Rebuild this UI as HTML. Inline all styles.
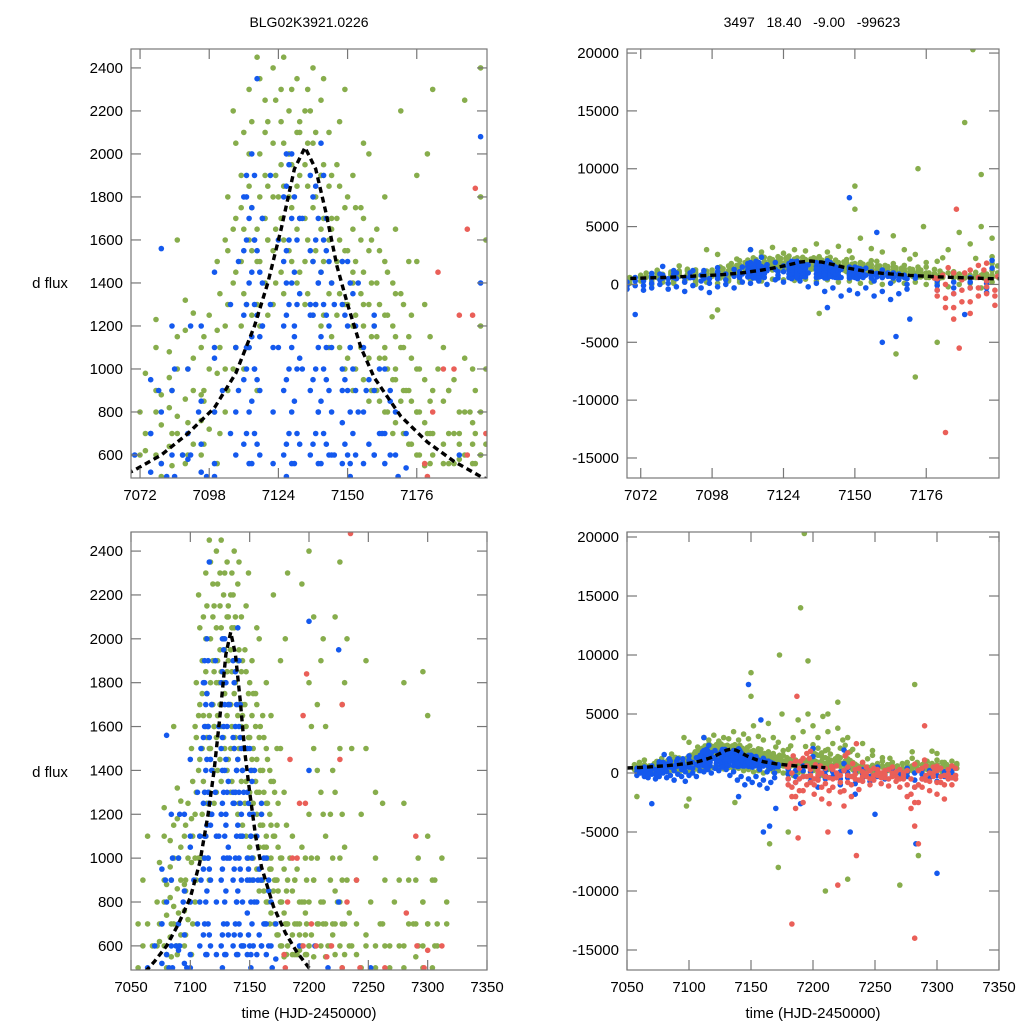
<!DOCTYPE html>
<html><head><meta charset="utf-8"><style>
html,body{margin:0;padding:0;background:#fff;width:1024px;height:1024px;overflow:hidden}
svg{display:block}
text{font-family:"Liberation Sans",sans-serif;fill:#000}
</style></head><body>
<svg id="chart" width="1024" height="1024" viewBox="0 0 1024 1024">
<rect width="1024" height="1024" fill="#fff"/>
<text x="309" y="27" font-size="14" text-anchor="middle">BLG02K3921.0226</text>
<text x="812" y="27" font-size="14" text-anchor="middle" xml:space="preserve">3497   18.40   -9.00   -99623</text>
<text x="50" y="288" font-size="15" text-anchor="middle">d flux</text>
<text x="50" y="777" font-size="15" text-anchor="middle">d flux</text>
<text x="309" y="1018" font-size="15" text-anchor="middle">time (HJD-2450000)</text>
<text x="813" y="1018" font-size="15" text-anchor="middle">time (HJD-2450000)</text>
</svg>
<script>
// ---- data ----
const greenT=[7074,7074,7074,7078,7078,7078,7078,7078,7080,7080,7080,7083,7083,7083,7083,7086,7086,7086,7086,7086,7089,7089,7089,7089,7092,7092,7092,7092,7095,7095,7095,7095,7098,7098,7098,7101,7101,7101,7101,7104,7104,7104,7107,7107,7107,7107,7110,7110,7110,7110,7113,7113,7113,7113,7113,7116,7116,7116,7116,7119,7119,7119,7119,7119,7122,7122,7122,7122,7122,7125,7125,7125,7125,7125,7128,7128,7128,7128,7131,7131,7131,7131,7131,7134,7134,7134,7134,7134,7137,7137,7137,7137,7137,7140,7140,7140,7140,7140,7143,7143,7143,7143,7143,7146,7146,7146,7146,7149,7149,7149,7149,7149,7152,7152,7152,7152,7152,7155,7155,7155,7155,7158,7158,7158,7158,7158,7161,7161,7161,7161,7164,7164,7164,7164,7164,7167,7167,7167,7167,7170,7170,7170,7170,7173,7173,7173,7173,7176,7176,7176,7176,7179,7179,7179,7179,7182,7182,7182,7182,7186,7186,7186,7186,7190,7190,7190,7194,7194,7194,7194,7197,7197,7197,7197,7200,7200,7200,7200,7200,7204,7204,7204,7204,7207,7207,7207,7207,7210,7210,7210,7210,7214,7214,7214,7214,7218,7218,7218,7222,7222,7222,7222,7222,7226,7226,7226,7226,7226,7230,7230,7230,7230,7234,7234,7240,7240,7248,7248,7256,7256,7262,7262,7280,7280,7290,7290,7290,7296,7296,7296,7300,7300,7306,7306];
const greenF=[620,700,980,600,800,900,1100,1230,560,740,880,640,820,960,1080,700,780,1000,1150,1600,560,860,1180,1320,650,900,1050,1260,600,760,880,1100,720,1000,1250,560,980,1500,1180,800,1200,1600,1000,1400,1650,2200,1200,1500,1750,1900,1100,1600,1850,2000,2300,900,1300,1650,2450,1400,1700,1900,2100,2250,1300,1550,1800,2050,2400,1450,1700,1950,2150,2300,1550,1800,2000,2200,1400,1650,1850,2100,2350,1300,1500,1700,1950,2200,1250,1500,1750,2050,2400,1200,1450,1650,1900,2250,1100,1350,1600,1850,2100,1250,1500,1700,1950,1000,1300,1550,1750,2300,900,1200,1450,1650,1900,1100,1350,1600,1750,850,1050,1300,1550,2000,900,1150,1400,1650,800,1050,1250,1500,1800,700,950,1200,1400,850,1100,1350,2200,650,900,1150,1500,600,800,1000,1900,550,750,950,1300,600,700,900,2300,560,650,850,1100,560,700,950,600,800,1050,2250,560,650,750,1000,600,800,1200,1800,2400,550,900,1500,2100,700,1000,1400,1700,600,800,1300,1900,550,700,1100,1600,600,900,1200,560,700,850,1300,2100,600,800,1000,1500,2350,560,700,1050,1800,600,750,560,900,650,1900,1300,600,1250,700,600,1250,900,700,550,800,1850,600,1650,700,900,600];
const green2Rows=[[7084,[550,700,900]],[7090,[600,750,1000]],[7096,[650,850,1150]],[7102,[700,1100,1350]],[7105,[900,1300,1550,1800]],[7108,[1100,1450,1700,2050]],[7111,[1000,1350,1650,2100]],[7114,[1250,1550,1750,2150]],[7117,[1200,1500,1800,2000,2350]],[7120,[1250,1600,1850,2150]],[7123,[1400,1650,1900,2250]],[7126,[1350,1600,1850,2050,2450]],[7129,[1500,1750,1950,2300]],[7132,[1450,1700,1900,2150]],[7135,[1350,1600,1850,2050,2300]],[7138,[1300,1550,1800,2100]],[7141,[1250,1500,1700,1950,2350]],[7144,[1150,1400,1650,1900]],[7147,[1100,1350,1600,1850,2150]],[7150,[1050,1300,1550,1800]],[7153,[1000,1250,1500,1750]],[7156,[950,1200,1450,1700,2050]],[7159,[900,1150,1400,1600]],[7162,[850,1050,1300,1550]],[7165,[800,1000,1250,1450]],[7168,[750,950,1150,1350,1650]],[7171,[700,900,1100,1300]],[7174,[650,850,1050,1250]],[7177,[600,800,1000]],[7181,[560,700,850,1150]],[7188,[560,700,900]],[7192,[580,650,800]],[7198,[560,700,900]],[7202,[650,1000,1600]],[7212,[700,1200,2000]],[7220,[650,1000,1400]],[7228,[700,900,1200,1700]]];
const greenLowT=[7056,7060,7064,7068,7072,7076,7080,7084,7088,7092,7096,7100,7104,7108,7112,7116,7120,7124,7128,7132,7136,7140,7144,7148,7152,7156,7160,7164,7168,7172,7176,7180,7184,7188,7192,7196,7200,7204,7208,7212,7216,7220,7224,7228,7232,7236,7240,7244,7248,7252,7256,7260,7264,7268,7272,7276,7280,7284,7288,7292,7296,7300,7304,7308,7312,7316];
const greenLowA=[300,200,400,100,300,0,200,100,300,0,200,100,300,200,400,300,450,400,350,450,300,400,200,300,100,200,0,300,100,200,0,100,-200,0,100,-300,200,0,-200,300,100,-100,200,0,300,100,0,200,100,300,0,200,400,100,300,0,200,400,100,300,200,400,100,300,200,400];
const greenLowB=[700,900,1100,600,800,400,500,450,200,400,3000,2600,450,400,3000,2800,3200,2700,3000,2900,3500,2800,3300,2900,4000,3100,2800,4200,3000,2600,1500,2000,3000,4500,3500,5000,4000,3000,4800,3500,2500,3800,2800,3000,2000,1500,2500,1200,1500,800,1000,700,900,600,800,900,1800,900,700,1000,800,1100,900,700,1000,800];
const greenLowC=[500,600,700,400,600,300,400,300,600,200,900,800,1000,1100,1300,1500,1600,1800,2000,2100,2200,1900,1700,1500,1400,1300,1200,1100,1000,900,800,700,1000,900,700,800,600,900,700,800,600,700,800,500,900,600,700,500,600,400,500,400,600,500,400,600,500,700,400,600,500,700,500,600,400,700];
const greenOutT=[7058,7098,7100,7137,7150,7150,7172,7173,7175,7190,7193,7196,7210,7212,7228,7270,7282,7285,7165,7180,7220];
const greenOutF=[-2000,-2800,-2200,-2500,8500,6500,-8000,10000,5000,14000,20300,9500,-10000,5000,-9000,-9500,7500,-7000,-6000,-5000,6000];
const blueT=[7076,7076,7076,7080,7080,7080,7084,7084,7084,7090,7090,7090,7095,7095,7095,7095,7100,7100,7100,7100,7108,7108,7108,7112,7112,7112,7112,7112,7114,7114,7114,7114,7114,7114,7116,7116,7116,7116,7116,7118,7118,7118,7122,7122,7122,7126,7126,7126,7126,7126,7128,7128,7128,7128,7128,7130,7130,7130,7130,7132,7132,7132,7132,7136,7136,7136,7136,7138,7138,7138,7138,7138,7140,7140,7140,7140,7140,7142,7142,7142,7142,7144,7144,7144,7144,7148,7148,7148,7148,7150,7150,7150,7150,7152,7152,7152,7156,7156,7156,7160,7160,7160,7164,7164,7164,7168,7168,7172,7172,7200,7200,7225,7225,7205];
const blueF=[520,700,950,560,800,1560,600,900,1200,580,700,1000,520,650,850,1200,560,800,1050,1450,600,800,1100,700,1000,1300,1600,1900,560,850,1150,1450,1750,2000,650,950,1250,1550,2350,1200,1400,1700,560,800,1100,600,900,1200,1500,1800,700,1000,1300,1600,1950,560,850,1150,1450,650,1050,1350,1700,600,900,1250,1550,700,1000,1300,1600,1850,560,850,1150,1450,2050,650,950,1250,1550,600,800,1100,1400,560,750,1000,1300,600,900,1200,1500,700,1000,1350,560,800,1100,600,900,1250,560,700,1000,600,800,540,700,1400,2080,800,1950,600];
const blue2Rows=[[7111,[650,950,1250,1550,1800]],[7113,[560,800,1100,1400,1700]],[7115,[700,1000,1300,1600,1900]],[7117,[600,900,1150,1450]],[7127,[650,950,1250,1550,1850]],[7129,[560,800,1100,1400,1700,2000]],[7131,[700,1000,1300,1600]],[7137,[650,950,1250,1500,1800]],[7139,[560,800,1100,1400,1700]],[7141,[700,1000,1300,1600,1900]],[7143,[600,900,1200,1500]],[7149,[650,950,1250]],[7151,[560,800,1100,1400]],[7153,[600,900,1200]],[7158,[650,950]],[7162,[700,1000]],[7166,[600,850]]];
const blueLowT=[7058,7061,7064,7067,7070,7073,7076,7079,7082,7085,7088,7091,7094,7097,7100,7103,7106,7109,7112,7115,7118,7121,7124,7127,7130,7133,7136,7139,7142,7145,7148,7151,7154,7157,7160,7163,7166,7169,7180,7186,7192,7198,7204,7210,7216,7222,7228,7234,7240,7246,7252,7258,7264,7270,7276,7282,7288,7294,7300,7306,7312];
const blueLowA=[-200,0,-300,-400,-100,-500,-300,0,-400,-200,-600,-100,-300,-700,-200,0,-300,200,100,300,0,400,200,500,300,-200,100,-600,-300,-1000,-500,-800,-300,-1000,-600,-1300,-800,-400,-500,-800,-300,-700,-1200,-500,-300,-1000,-400,-1800,-400,-700,-300,-500,-200,-400,-300,-1200,-500,-400,-700,-300,-400];
const blueLowB=[400,300,500,200,600,300,700,900,500,1000,600,1200,800,500,1100,900,1300,1500,1800,1600,1700,1900,1600,2000,1800,1700,1900,1400,1700,1300,1500,1100,1400,900,1200,700,900,500,300,200,600,100,400,200,500,100,400,0,300,200,500,100,300,200,400,0,300,200,400,100,300];
const blueLowC=[100,200,100,-100,300,-100,100,400,100,500,200,600,300,100,500,400,700,900,1100,1000,1200,1300,1100,1400,1200,1000,1300,800,1100,600,900,500,800,300,600,100,400,0,-100,-300,200,-300,-400,-200,100,-500,0,-900,-100,-300,100,-200,0,-100,100,-600,-100,-100,-200,-100,0];
const blueOutT=[7070,7140,7148,7160,7165,7190,7230,7283,7300,7250,7112,7158,7170];
const blueOutF=[-2600,-2000,7500,-5000,-4500,-2600,-5000,-6000,-8500,-3500,3000,4500,-3000];
const redT=[7179,7182,7184,7186,7190,7192,7195,7197,7198,7202,7206,7215,7226,7228,7232,7235,7240,7290,7300,7282];
const redF=[560,800,1450,1000,1000,1250,1650,1250,1840,700,600,550,1450,1700,800,2480,900,1100,580,750];
const redLowT=[7180,7183,7186,7189,7192,7195,7198,7201,7204,7207,7210,7213,7216,7219,7222,7225,7228,7231,7234,7237,7240,7243,7246,7249,7252,7255,7258,7261,7264,7267,7270,7273,7276,7279,7282,7285,7288,7291,7294,7297,7300,7303,7306,7309,7312,7315];
const redLowA=[-500,-2000,-3000,-1500,-2500,-1000,-200,-1800,-600,-2200,-900,-2600,-1200,-400,-1600,-2800,-800,-2000,-500,-1400,-700,-300,-1000,-600,-200,-900,-400,-1100,-300,-700,-1200,-500,-2000,-3000,-4500,-2500,-1200,-600,-1500,-300,-1800,-800,-2200,-500,-1000,-200];
const redLowB=[500,0,-800,400,-300,600,300,-500,200,0,400,-400,300,600,-200,200,500,-300,300,400,100,500,200,400,300,0,200,300,500,100,300,0,200,-500,-1200,200,400,600,0,500,200,400,-200,300,600,400];
const redLowC=[-1000,-1200,-2000,-500,-1500,-300,-800,-1000,-200,-1200,-300,-1500,-500,0,-800,-1500,-200,-1000,-100,-600,-300,0,-500,-200,0,-400,-100,-500,0,-300,-500,-200,-1000,-1800,-2500,-1000,-500,-200,-700,0,-800,-300,-1000,-100,-400,-500];
const redOutT=[7183,7188,7187,7212,7220,7235,7282,7285,7290];
const redOutF=[-12800,-5500,6500,-5000,-9500,-7000,-14000,-6000,4000];
const modelT=[7050,7060,7070,7080,7090,7100,7108,7115,7120,7125,7130,7134,7138,7142,7146,7150,7155,7160,7170,7180,7190,7200,7210];
const modelF=[420,470,530,600,700,820,980,1200,1400,1650,1930,2030,1930,1720,1480,1300,1100,960,780,660,570,500,450];
const topXTicks=[7072,7098,7124,7150,7176];
const botXTicks=[7050,7100,7150,7200,7250,7300,7350];
const leftYTicks=[600,800,1000,1200,1400,1600,1800,2000,2200,2400];
const rightYTicks=[-15000,-10000,-5000,0,5000,10000,15000,20000];

// ---- panels ----
const NS='http://www.w3.org/2000/svg';
const svg=document.getElementById('chart');
const panels=[
 {id:'top-left',x0:131,x1:487,y0:49,y1:478,xd:[7068.6,7202.4],yd:[493,2488],xt:topXTicks,yt:leftYTicks},
 {id:'top-right',x0:627,x1:999,y0:49,y1:478,xd:[7067,7202.5],yd:[-16730,20350],xt:topXTicks,yt:rightYTicks},
 {id:'bottom-left',x0:131,x1:487,y0:532,y1:970,xd:[7050,7350],yd:[490,2487],xt:botXTicks,yt:leftYTicks},
 {id:'bottom-right',x0:627,x1:999,y0:532,y1:970,xd:[7050,7350],yd:[-16695,20424],xt:botXTicks,yt:rightYTicks}
];
function mk(tag,attrs,parent){const e=document.createElementNS(NS,tag);for(const k in attrs)e.setAttribute(k,attrs[k]);(parent||svg).appendChild(e);return e;}
function rowsT(rows){const o=[];rows.forEach(r=>r[1].forEach(()=>o.push(r[0])));return o;}
function rowsF(rows){const o=[];rows.forEach(r=>r[1].forEach(v=>o.push(v)));return o;}
const defs=mk('defs',{});
panels.forEach(p=>{
 const sx=v=>p.x0+(v-p.xd[0])/(p.xd[1]-p.xd[0])*(p.x1-p.x0);
 const sy=v=>p.y1-(v-p.yd[0])/(p.yd[1]-p.yd[0])*(p.y1-p.y0);
 const cp=mk('clipPath',{id:'clip-'+p.id},defs);
 mk('rect',{x:p.x0,y:p.y0,width:p.x1-p.x0,height:p.y1-p.y0},cp);
 const g=mk('g',{'clip-path':'url(#clip-'+p.id+')'});
 
 
 function dots(T,F,color,name){
  const sg=mk('g',{fill:color},g);
  
  
  for(let i=0;i<T.length;i++){
   const c=mk('circle',{cx:sx(T[i]).toFixed(1),cy:sy(F[i]).toFixed(1),r:2.8},sg);
   
   
  }
 }
 const G='#87ad4c',B='#1459ee',R='#ea5f58';
 dots(greenT,greenF,G,'green-series');
 dots(rowsT(green2Rows),rowsF(green2Rows),G,'green-series');
 dots(greenLowT,greenLowA,G,'green-series');
 dots(greenLowT,greenLowB,G,'green-series');
 dots(greenLowT,greenLowC,G,'green-series');
 dots(greenOutT,greenOutF,G,'green-series');
 dots(blueT,blueF,B,'blue-series');
 dots(rowsT(blue2Rows),rowsF(blue2Rows),B,'blue-series');
 dots(blueLowT,blueLowA,B,'blue-series');
 dots(blueLowT,blueLowB,B,'blue-series');
 dots(blueLowT,blueLowC,B,'blue-series');
 dots(blueOutT,blueOutF,B,'blue-series');
 dots(redT,redF,R,'red-series');
 dots(redLowT,redLowA,R,'red-series');
 dots(redLowT,redLowB,R,'red-series');
 dots(redLowT,redLowC,R,'red-series');
 dots(redOutT,redOutF,R,'red-series');
 const pts=modelT.map((t,i)=>sx(t).toFixed(1)+','+sy(modelF[i]).toFixed(1)).join(' ');
 const ml=mk('polyline',{points:pts,fill:'none',stroke:'#000','stroke-width':3.4,'stroke-dasharray':'6,4'},g);
 
 
 const fr=mk('rect',{x:p.x0,y:p.y0,width:p.x1-p.x0,height:p.y1-p.y0,fill:'none',stroke:'#777','stroke-width':1.2});
 
 
 const ax=mk('g',{stroke:'#777','stroke-width':1.2});
 
 
 p.xt.forEach(v=>{
  const x=sx(v);
  mk('line',{x1:x,x2:x,y1:p.y1,y2:p.y1-10},ax);
  mk('line',{x1:x,x2:x,y1:p.y0,y2:p.y0+10},ax);
  const t=mk('text',{x:x,y:p.y1+22,'font-size':15,'text-anchor':'middle'});
  t.textContent=v;
  
  
 });
 p.yt.forEach(v=>{
  const y=sy(v);
  mk('line',{x1:p.x0,x2:p.x0+10,y1:y,y2:y},ax);
  mk('line',{x1:p.x1,x2:p.x1-10,y1:y,y2:y},ax);
  const t=mk('text',{x:p.x0-8,y:y+5,'font-size':15,'text-anchor':'end'});
  t.textContent=v;
  
  
 });
});
</script>
</body></html>
